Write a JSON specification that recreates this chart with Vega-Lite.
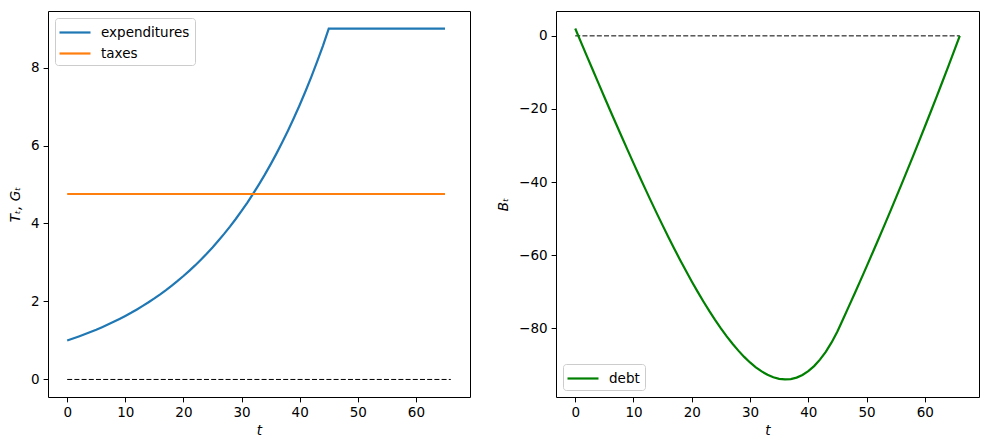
{
  "$schema": "https://vega.github.io/schema/vega-lite/v6.json",
  "padding": {"left": 8, "top": 10, "right": 5, "bottom": 4},
  "background": "white",
  "datasets": {
    "spend": [
      {"t": 0, "expenditures": 1.0, "taxes": 4.756},
      {"t": 1, "expenditures": 1.05, "taxes": 4.756},
      {"t": 2, "expenditures": 1.103, "taxes": 4.756},
      {"t": 3, "expenditures": 1.158, "taxes": 4.756},
      {"t": 4, "expenditures": 1.216, "taxes": 4.756},
      {"t": 5, "expenditures": 1.276, "taxes": 4.756},
      {"t": 6, "expenditures": 1.34, "taxes": 4.756},
      {"t": 7, "expenditures": 1.407, "taxes": 4.756},
      {"t": 8, "expenditures": 1.477, "taxes": 4.756},
      {"t": 9, "expenditures": 1.551, "taxes": 4.756},
      {"t": 10, "expenditures": 1.629, "taxes": 4.756},
      {"t": 11, "expenditures": 1.71, "taxes": 4.756},
      {"t": 12, "expenditures": 1.796, "taxes": 4.756},
      {"t": 13, "expenditures": 1.886, "taxes": 4.756},
      {"t": 14, "expenditures": 1.98, "taxes": 4.756},
      {"t": 15, "expenditures": 2.079, "taxes": 4.756},
      {"t": 16, "expenditures": 2.183, "taxes": 4.756},
      {"t": 17, "expenditures": 2.292, "taxes": 4.756},
      {"t": 18, "expenditures": 2.407, "taxes": 4.756},
      {"t": 19, "expenditures": 2.527, "taxes": 4.756},
      {"t": 20, "expenditures": 2.653, "taxes": 4.756},
      {"t": 21, "expenditures": 2.786, "taxes": 4.756},
      {"t": 22, "expenditures": 2.925, "taxes": 4.756},
      {"t": 23, "expenditures": 3.072, "taxes": 4.756},
      {"t": 24, "expenditures": 3.225, "taxes": 4.756},
      {"t": 25, "expenditures": 3.386, "taxes": 4.756},
      {"t": 26, "expenditures": 3.556, "taxes": 4.756},
      {"t": 27, "expenditures": 3.733, "taxes": 4.756},
      {"t": 28, "expenditures": 3.92, "taxes": 4.756},
      {"t": 29, "expenditures": 4.116, "taxes": 4.756},
      {"t": 30, "expenditures": 4.322, "taxes": 4.756},
      {"t": 31, "expenditures": 4.538, "taxes": 4.756},
      {"t": 32, "expenditures": 4.765, "taxes": 4.756},
      {"t": 33, "expenditures": 5.003, "taxes": 4.756},
      {"t": 34, "expenditures": 5.253, "taxes": 4.756},
      {"t": 35, "expenditures": 5.516, "taxes": 4.756},
      {"t": 36, "expenditures": 5.792, "taxes": 4.756},
      {"t": 37, "expenditures": 6.081, "taxes": 4.756},
      {"t": 38, "expenditures": 6.385, "taxes": 4.756},
      {"t": 39, "expenditures": 6.705, "taxes": 4.756},
      {"t": 40, "expenditures": 7.04, "taxes": 4.756},
      {"t": 41, "expenditures": 7.392, "taxes": 4.756},
      {"t": 42, "expenditures": 7.762, "taxes": 4.756},
      {"t": 43, "expenditures": 8.15, "taxes": 4.756},
      {"t": 44, "expenditures": 8.557, "taxes": 4.756},
      {"t": 45, "expenditures": 9.0, "taxes": 4.756},
      {"t": 46, "expenditures": 9.0, "taxes": 4.756},
      {"t": 47, "expenditures": 9.0, "taxes": 4.756},
      {"t": 48, "expenditures": 9.0, "taxes": 4.756},
      {"t": 49, "expenditures": 9.0, "taxes": 4.756},
      {"t": 50, "expenditures": 9.0, "taxes": 4.756},
      {"t": 51, "expenditures": 9.0, "taxes": 4.756},
      {"t": 52, "expenditures": 9.0, "taxes": 4.756},
      {"t": 53, "expenditures": 9.0, "taxes": 4.756},
      {"t": 54, "expenditures": 9.0, "taxes": 4.756},
      {"t": 55, "expenditures": 9.0, "taxes": 4.756},
      {"t": 56, "expenditures": 9.0, "taxes": 4.756},
      {"t": 57, "expenditures": 9.0, "taxes": 4.756},
      {"t": 58, "expenditures": 9.0, "taxes": 4.756},
      {"t": 59, "expenditures": 9.0, "taxes": 4.756},
      {"t": 60, "expenditures": 9.0, "taxes": 4.756},
      {"t": 61, "expenditures": 9.0, "taxes": 4.756},
      {"t": 62, "expenditures": 9.0, "taxes": 4.756},
      {"t": 63, "expenditures": 9.0, "taxes": 4.756},
      {"t": 64, "expenditures": 9.0, "taxes": 4.756},
      {"t": 65, "expenditures": 9.0, "taxes": 4.756}
    ],
    "debt": [
      {"t": 0, "debt": 2.0},
      {"t": 1, "debt": -1.77},
      {"t": 2, "debt": -5.54},
      {"t": 3, "debt": -9.28},
      {"t": 4, "debt": -13.01},
      {"t": 5, "debt": -16.71},
      {"t": 6, "debt": -20.4},
      {"t": 7, "debt": -24.05},
      {"t": 8, "debt": -27.67},
      {"t": 9, "debt": -31.26},
      {"t": 10, "debt": -34.81},
      {"t": 11, "debt": -38.32},
      {"t": 12, "debt": -41.78},
      {"t": 13, "debt": -45.19},
      {"t": 14, "debt": -48.54},
      {"t": 15, "debt": -51.83},
      {"t": 16, "debt": -55.05},
      {"t": 17, "debt": -58.2},
      {"t": 18, "debt": -61.27},
      {"t": 19, "debt": -64.26},
      {"t": 20, "debt": -67.15},
      {"t": 21, "debt": -69.95},
      {"t": 22, "debt": -72.63},
      {"t": 23, "debt": -75.21},
      {"t": 24, "debt": -77.66},
      {"t": 25, "debt": -79.99},
      {"t": 26, "debt": -82.17},
      {"t": 27, "debt": -84.21},
      {"t": 28, "debt": -86.08},
      {"t": 29, "debt": -87.79},
      {"t": 30, "debt": -89.31},
      {"t": 31, "debt": -90.64},
      {"t": 32, "debt": -91.77},
      {"t": 33, "debt": -92.68},
      {"t": 34, "debt": -93.36},
      {"t": 35, "debt": -93.79},
      {"t": 36, "debt": -93.96},
      {"t": 37, "debt": -93.85},
      {"t": 38, "debt": -93.45},
      {"t": 39, "debt": -92.74},
      {"t": 40, "debt": -91.7},
      {"t": 41, "debt": -90.31},
      {"t": 42, "debt": -88.55},
      {"t": 43, "debt": -86.4},
      {"t": 44, "debt": -83.84},
      {"t": 45, "debt": -80.84},
      {"t": 46, "debt": -77.36},
      {"t": 47, "debt": -73.85},
      {"t": 48, "debt": -70.3},
      {"t": 49, "debt": -66.72},
      {"t": 50, "debt": -63.1},
      {"t": 51, "debt": -59.44},
      {"t": 52, "debt": -55.75},
      {"t": 53, "debt": -52.02},
      {"t": 54, "debt": -48.26},
      {"t": 55, "debt": -44.45},
      {"t": 56, "debt": -40.61},
      {"t": 57, "debt": -36.73},
      {"t": 58, "debt": -32.81},
      {"t": 59, "debt": -28.85},
      {"t": 60, "debt": -24.86},
      {"t": 61, "debt": -20.82},
      {"t": 62, "debt": -16.74},
      {"t": 63, "debt": -12.62},
      {"t": 64, "debt": -8.46},
      {"t": 65, "debt": -4.26},
      {"t": 66, "debt": 0.0}
    ],
    "zero": [
      {"t": 0, "level": 0},
      {"t": 66, "level": 0}
    ]
  },
  "hconcat": [
    {
      "width": 422,
      "height": 386,
      "layer": [
        {
          "data": {"name": "zero"},
          "mark": {"type": "line", "color": "black", "strokeWidth": 1, "strokeDash": [5, 2.2]},
          "encoding": {
            "x": {"field": "t", "type": "quantitative"},
            "y": {"field": "level", "type": "quantitative"}
          }
        },
        {
          "data": {"name": "spend"},
          "transform": [{"fold": ["expenditures", "taxes"], "as": ["series", "value"]}],
          "mark": {"type": "line", "strokeWidth": 2.2},
          "encoding": {
            "x": {
              "field": "t", "type": "quantitative", "title": "t",
              "scale": {"domain": [-3.3, 69.3], "nice": false, "zero": false},
              "axis": {"values": [0, 10, 20, 30, 40, 50, 60], "titlePadding": 4}
            },
            "y": {
              "field": "value", "type": "quantitative", "title": "Tₜ, Gₜ",
              "scale": {"domain": [-0.45, 9.45], "nice": false, "zero": false},
              "axis": {"values": [0, 2, 4, 6, 8]}
            },
            "color": {
              "field": "series", "type": "nominal",
              "scale": {"domain": ["expenditures", "taxes"], "range": ["#1f77b4", "#ff7f0e"]},
              "legend": {"title": null, "orient": "top-left", "offset": 7}
            }
          }
        }
      ]
    },
    {
      "width": 423,
      "height": 386,
      "layer": [
        {
          "data": {"name": "zero"},
          "mark": {"type": "line", "color": "black", "strokeWidth": 1, "strokeDash": [5, 2.2]},
          "encoding": {
            "x": {"field": "t", "type": "quantitative"},
            "y": {"field": "level", "type": "quantitative"}
          }
        },
        {
          "data": {"name": "debt"},
          "transform": [{"fold": ["debt"], "as": ["series", "value"]}],
          "mark": {"type": "line", "strokeWidth": 2.2},
          "encoding": {
            "x": {
              "field": "t", "type": "quantitative", "title": "t",
              "scale": {"domain": [-3.3, 69.3], "nice": false, "zero": false},
              "axis": {"values": [0, 10, 20, 30, 40, 50, 60], "titlePadding": 4}
            },
            "y": {
              "field": "value", "type": "quantitative", "title": "Bₜ",
              "scale": {"domain": [-98.76, 6.8], "nice": false, "zero": false},
              "axis": {"values": [-80, -60, -40, -20, 0]}
            },
            "color": {
              "field": "series", "type": "nominal",
              "scale": {"domain": ["debt"], "range": ["green"]},
              "legend": {"title": null, "orient": "bottom-left", "offset": 7}
            }
          }
        }
      ]
    }
  ],
  "spacing": 25,
  "resolve": {"scale": {"color": "independent", "x": "independent", "y": "independent"}},
  "config": {
    "font": "DejaVu Sans",
    "view": {"stroke": "black", "strokeWidth": 1},
    "axis": {
      "grid": false,
      "domain": false,
      "tickColor": "black",
      "tickSize": 4.9,
      "tickWidth": 1,
      "labelColor": "black",
      "labelFont": "DejaVu Sans",
      "labelFontSize": 13.5,
      "labelPadding": 4,
      "titleColor": "black",
      "titleFont": "DejaVu Sans",
      "titleFontSize": 13.5,
      "titleFontStyle": "italic",
      "titleFontWeight": "normal",
      "titlePadding": 8
    },
    "legend": {
      "symbolType": "M-1.25,0H2.625",
      "symbolSize": 256,
      "symbolStrokeWidth": 2.2,
      "symbolFillColor": "transparent",
      "labelFont": "DejaVu Sans",
      "labelFontSize": 13.5,
      "labelColor": "black",
      "labelOffset": 22,
      "rowPadding": 5,
      "padding": 5,
      "fillColor": "white",
      "strokeColor": "#cccccc",
      "cornerRadius": 3
    }
  }
}
